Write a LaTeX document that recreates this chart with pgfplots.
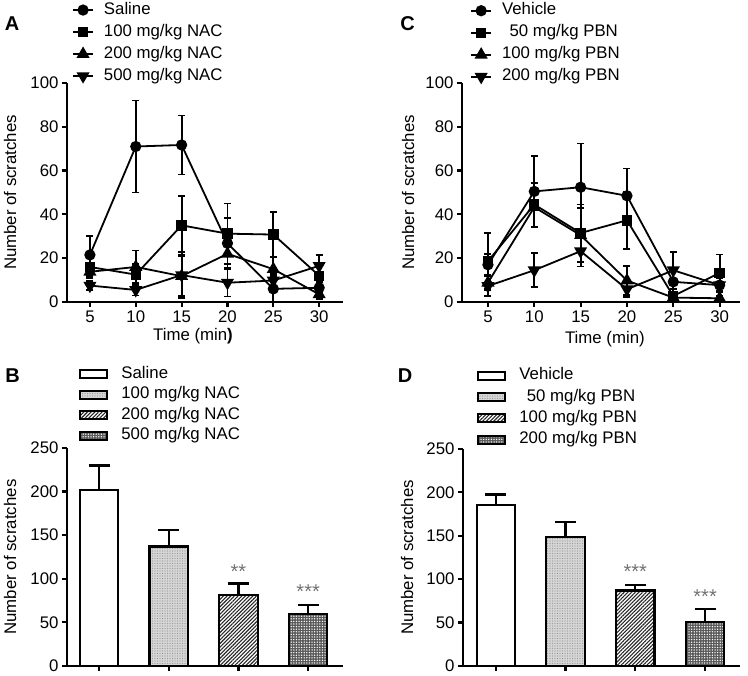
\documentclass[border=0pt]{standalone}
\usepackage{fontspec}
\setmainfont{Liberation Sans}
\usepackage{pgfplots}
\pgfplotsset{compat=1.18}
\usetikzlibrary{patterns.meta}

\newcommand{\fs}{\fontsize{16.8bp}{19bp}\selectfont}
\tikzset{stars/.style={font=\fontsize{20bp}{22bp}\selectfont, text=black!55}}

\pgfplotsset{
  panel/.style={
    scale only axis, anchor=south west, clip=false,
    axis lines*=left,
    axis line style={line width=2.4bp, -},
    tick style={line width=2.2bp, black},
    tick align=outside, major tick length=5bp,
    ymin=0,
    font=\fs, tick label style={font=\fs}, label style={font=\fs},
    /pgf/number format/assume math mode=true,
    ylabel={Number of scratches},
    legend cell align=left,
  },
  linepanel/.style={panel,
    ymax=100, ytick={0,20,...,100}, xtick={5,10,...,30},
    error bars/y dir=both, error bars/y explicit,
    error bars/error bar style={line width=1.8bp, black},
    error bars/error mark options={rotate=90, line width=1.8bp, mark size=3.5bp, black},
    legend image code/.code={\draw[mark repeat=2,mark phase=2,##1] plot coordinates {(0bp,0bp) (10bp,0bp) (20bp,0bp)};},
    legend style={draw=none, fill=none, anchor=north west, font=\fs, inner sep=0pt,
      row sep=4bp, column sep=9bp, nodes={inner sep=1bp, text height=12bp, text depth=4bp}},
  },
  ln/.style={black, line width=1.8bp, mark options={solid, fill=black}},
  barpanel/.style={panel,
    ymax=250, ytick={0,50,...,250}, xtick={0,1,2,3}, xticklabels={,,,},
    legend style={draw=none, fill=none, anchor=north west, font=\fs, inner sep=0pt,
      row sep=2.5bp, column sep=12bp, nodes={inner sep=1bp, text height=12bp, text depth=4bp}},
  },
  bb/.style={ybar, bar width=0.55, bar shift=0pt, draw=black, line width=2.2bp,
    legend image code/.code={\draw[##1] (0bp,-4bp) rectangle (27bp,4bp);},
    error bars/y dir=plus, error bars/y explicit,
    error bars/error bar style={line width=2.2bp, black},
    error bars/error mark options={rotate=90, line width=2.2bp, mark size=10.5bp, black},
  },
  b1/.style={bb, fill=white},
  b2/.style={bb, fill=black!16, postaction={pattern={Dots[distance=2.5bp,radius=0.55bp]}, pattern color=black!40}},
  b3/.style={bb, fill=white, postaction={pattern={Lines[angle=45,distance=2.6bp,line width=1.1bp]}, pattern color=black!85}},
  b4/.style={bb, fill=black!65, postaction={pattern={Dots[distance=2.6bp,radius=0.75bp]}, pattern color=white}},
}

\begin{document}
\begin{tikzpicture}
\useasboundingbox (0bp,0bp) rectangle (748bp,676bp);

% ---- A ----
\begin{axis}[linepanel, at={(67bp,374bp)}, width=276bp, height=219bp,
    xmin=2.5, xmax=32.6,
    xlabel={Time (min\textbf{)}},
    ylabel style={at={(axis description cs:-0.2065,0.5)}, anchor=center},
    xlabel style={at={(axis description cs:0.4565,-0.156)}, anchor=center},
    legend style={at={(axis description cs:0.018,1.375)}}]
\addplot[ln, mark=*, mark size=4.7bp] coordinates {
  (5,21.5) +- (0,8.5) (10,71) +- (0,21) (15,71.7) +- (0,13.5)
  (20,26.8) +- (0,11.5) (25,6) +- (0,6) (30,6.5) +- (0,2.5)};
\addplot[ln, mark=square*, mark size=4.3bp] coordinates {
  (5,16) +- (0,4) (10,12.5) +- (0,5) (15,35) +- (0,13.5)
  (20,31.2) +- (0,13.8) (25,30.8) +- (0,10.2) (30,12) +- (0,4.5)};
\addplot[ln, mark=triangle*, mark size=5.8bp] coordinates {
  (5,13.8) +- (0,3) (10,16) +- (0,7.5) (15,11.8) +- (0,9)
  (20,22) +- (0,6.5) (25,15) +- (0,5.5) (30,3.5) +- (0,2)};
\addplot[ln, mark=triangle*, mark size=5.8bp, mark options={rotate=180}] coordinates {
  (5,7.5) +- (0,2) (10,5.5) +- (0,2.5) (15,12.3) +- (0,10.5)
  (20,8.8) +- (0,6.3) (25,9.8) +- (0,3) (30,16.5) +- (0,4.8)};
\legend{Saline, 100 mg/kg NAC, 200 mg/kg NAC, 500 mg/kg NAC}
\end{axis}

% ---- C ----
\begin{axis}[linepanel, at={(462bp,374bp)}, width=278bp, height=219bp,
    xmin=2.2, xmax=32.2,
    xlabel={Time (min)},
    ylabel style={at={(axis description cs:-0.194,0.5)}, anchor=center},
    xlabel style={at={(axis description cs:0.514,-0.169)}, anchor=center},
    legend style={at={(axis description cs:0.029,1.372)}}]
\addplot[ln, mark=*, mark size=4.7bp] coordinates {
  (5,17) +- (0,5) (10,50.5) +- (0,16) (15,52.4) +- (0,20)
  (20,48.5) +- (0,12.5) (25,9.2) +- (0,5) (30,7.7) +- (0,3)};
\addplot[ln, mark=square*, mark size=4.3bp] coordinates {
  (5,18.6) +- (0,12.8) (10,44.5) +- (0,10) (15,31.5) +- (0,13)
  (20,37.3) +- (0,13) (25,2.7) +- (0,2) (30,13.3) +- (0,8.4)};
\addplot[ln, mark=triangle*, mark size=5.8bp] coordinates {
  (5,8.8) +- (0,3.5) (10,43.3) +- (0,9) (15,30.5) +- (0,12.5)
  (20,9.8) +- (0,6.5) (25,2) +- (0,1) (30,1.7) +- (0,1)};
\addplot[ln, mark=triangle*, mark size=5.8bp, mark options={rotate=180}] coordinates {
  (5,7.3) +- (0,4.5) (10,14.5) +- (0,7.8) (15,23.2) +- (0,7)
  (20,5.8) +- (0,3.5) (25,14.5) +- (0,8.5) (30,7.7) +- (0,3)};
\legend{Vehicle, \hspace*{7.5bp}50 mg/kg PBN, 100 mg/kg PBN, 200 mg/kg PBN}
\end{axis}

% ---- B ----
\begin{axis}[barpanel, at={(67bp,10bp)}, width=276bp, height=218bp,
    xmin=-0.46, xmax=3.5,
    ylabel style={at={(axis description cs:-0.2065,0.5)}, anchor=center},
    legend style={at={(axis description cs:0.0435,1.381)}}]
\addplot[b1] coordinates {(0,202) +- (0,28)};
\addplot[b2] coordinates {(1,137) +- (0,19)};
\addplot[b3] coordinates {(2,81) +- (0,13.5)};
\addplot[b4] coordinates {(3,60) +- (0,9.5)};
\legend{Saline, 100 mg/kg NAC, 200 mg/kg NAC, 500 mg/kg NAC}
\node[stars] at (axis cs:2,108) {**};
\node[stars] at (axis cs:3,85) {***};
\end{axis}

% ---- D ----
\begin{axis}[barpanel, at={(463bp,10bp)}, width=277bp, height=217bp,
    xmin=-0.47, xmax=3.5,
    ylabel style={at={(axis description cs:-0.202,0.5)}, anchor=center},
    legend style={at={(axis description cs:0.0505,1.38)}, row sep=3.3bp}]
\addplot[b1] coordinates {(0,185.5) +- (0,12)};
\addplot[b2] coordinates {(1,148.5) +- (0,17.5)};
\addplot[b3] coordinates {(2,87) +- (0,6)};
\addplot[b4] coordinates {(3,50.5) +- (0,15)};
\legend{Vehicle, \hspace*{7.5bp}50 mg/kg PBN, 100 mg/kg PBN, 200 mg/kg PBN}
\node[stars] at (axis cs:2,108.5) {***};
\node[stars] at (axis cs:3,80) {***};
\end{axis}

\node[font=\bfseries\fontsize{20bp}{22bp}\selectfont] at (12bp,652bp) {A};
\node[font=\bfseries\fontsize{20bp}{22bp}\selectfont] at (407.5bp,652.5bp) {C};
\node[font=\bfseries\fontsize{20bp}{22bp}\selectfont] at (12.5bp,300bp) {B};
\node[font=\bfseries\fontsize{20bp}{22bp}\selectfont] at (405bp,300bp) {D};
\end{tikzpicture}
\end{document}
